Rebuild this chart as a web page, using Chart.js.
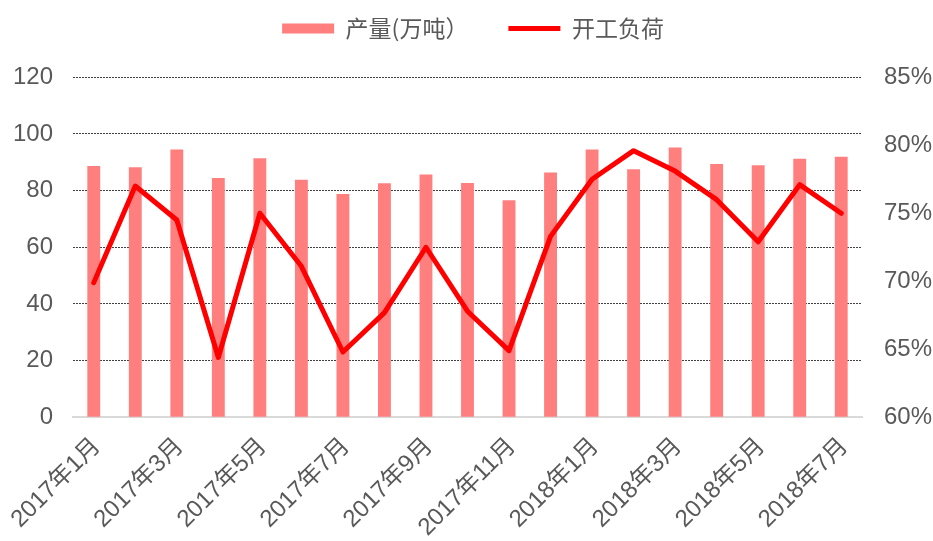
<!DOCTYPE html>
<html>
<head>
<meta charset="utf-8">
<script src="https://cdn.jsdelivr.net/npm/chart.js@4"></script>
<style>
  body { margin: 0; background: #fff; }
  #wrap { width: 933px; height: 541px; }
</style>
</head>
<body>
<div id="wrap"><canvas id="comboChart"></canvas></div>
<script>
// Months 2017-01 .. 2018-07
const months = ['2017年1月', '2017年2月', '2017年3月', '2017年4月', '2017年5月', '2017年6月',
  '2017年7月', '2017年8月', '2017年9月', '2017年10月', '2017年11月', '2017年12月',
  '2018年1月', '2018年2月', '2018年3月', '2018年4月', '2018年5月', '2018年6月', '2018年7月'];

// 产量 (万吨), left axis
const output = [88.7, 88.2, 94.5, 84.4, 91.4, 83.8, 78.8, 82.6, 85.7, 82.7,
  76.6, 86.4, 94.5, 87.5, 95.2, 89.4, 88.9, 91.2, 91.9];

// 开工负荷 (%), right axis
const loadRate = [69.9, 77.0, 74.5, 64.4, 75.0, 71.1, 64.8, 67.7, 72.5, 67.8,
  64.9, 73.3, 77.5, 79.6, 78.1, 76.0, 72.9, 77.1, 75.0];

const leftTicks = [0, 20, 40, 60, 80, 100, 120];
const rightTicks = [60, 65, 70, 75, 80, 85];

const textGray = '#595959';
const latin = '"Liberation Sans", Arial, "Noto Sans CJK SC", sans-serif';

const ctx = document.getElementById('comboChart').getContext('2d');

new Chart(ctx, {
    type: 'bar',
    data: {
        labels: months,
        datasets: [
            {
                label: '产量(万吨）',
                data: output,
                backgroundColor: '#FF7F7F',
                borderWidth: 0,
                barPercentage: 0.31,
                categoryPercentage: 1,
                pointStyle: 'rect',
                yAxisID: 'y',
                order: 2
            },
            {
                type: 'line',
                label: '开工负荷',
                data: loadRate,
                borderColor: '#FF0000',
                backgroundColor: '#FF0000',
                borderWidth: 5,
                borderCapStyle: 'round',
                borderJoinStyle: 'round',
                pointRadius: 0,
                pointHoverRadius: 0,
                pointStyle: 'line',
                tension: 0,
                yAxisID: 'y1',
                order: 1
            }
        ]
    },
    options: {
        responsive: true,
        maintainAspectRatio: false,
        animation: false,
        layout: {
            padding: { left: 13, right: 0, top: -23, bottom: -8 }
        },
        plugins: {
            tooltip: { enabled: false },
            legend: {
                position: 'top',
                weight: 3000,
                labels: {
                    usePointStyle: true,
                    pointStyleWidth: 52,
                    boxHeight: 10,
                    padding: 40,
                    color: textGray,
                    font: { family: '"Noto Sans CJK SC", sans-serif', size: 23 },
                    sort: (a, b) => a.datasetIndex - b.datasetIndex
                }
            },
            // empty title used only as a spacer between legend and plot
            title: {
                display: true,
                text: ' ',
                font: { size: 1 },
                padding: { top: 0, bottom: 26 }
            }
        },
        scales: {
            x: {
                grid: { display: false },
                border: { display: true, color: '#D9D9D9', width: 2 },
                afterFit: (scale) => { scale.paddingLeft = 0; scale.paddingRight = 0; },
                ticks: {
                    autoSkip: false,
                    minRotation: 45,
                    maxRotation: 45,
                    padding: 7,
                    labelOffset: 3,
                    color: textGray,
                    font: { family: latin, size: 24 },
                    callback: function (value, index) {
                        return index % 2 === 0 ? months[index] : '';
                    }
                }
            },
            y: {
                position: 'left',
                min: leftTicks[0],
                max: leftTicks[leftTicks.length - 1],
                afterBuildTicks: (axis) => { axis.ticks = leftTicks.map(v => ({ value: v })); },
                afterFit: (scale) => { scale.width = 60; },
                grid: {
                    color: (c) => c.tick && c.tick.value === 0 ? 'rgba(0,0,0,0)' : '#404040',
                    lineWidth: 1,
                    drawTicks: false
                },
                border: { display: false, dash: [2, 1] },
                ticks: {
                    padding: 20,
                    color: textGray,
                    font: { family: latin, size: 24 }
                }
            },
            y1: {
                position: 'right',
                min: rightTicks[0],
                max: rightTicks[rightTicks.length - 1],
                afterBuildTicks: (axis) => { axis.ticks = rightTicks.map(v => ({ value: v })); },
                afterFit: (scale) => { scale.width = 71; },
                grid: { drawOnChartArea: false, drawTicks: false },
                border: { display: false },
                ticks: {
                    padding: 22,
                    color: textGray,
                    font: { family: latin, size: 24 },
                    callback: (v) => v + '%'
                }
            }
        }
    }
});
</script>
</body>
</html>
